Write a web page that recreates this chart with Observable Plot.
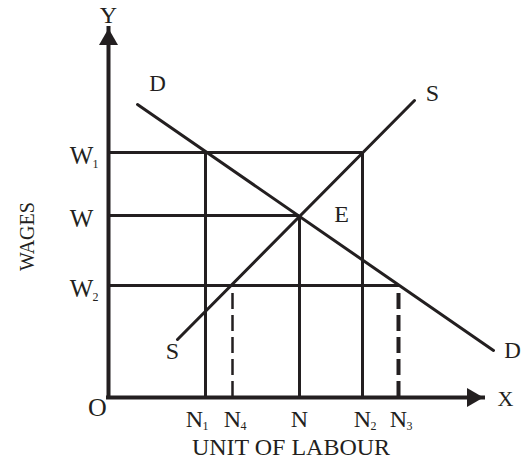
<!DOCTYPE html>
<html><head><meta charset="utf-8">
<script src="https://cdn.jsdelivr.net/npm/d3@7"></script>
<script src="https://cdn.jsdelivr.net/npm/@observablehq/plot@0.6"></script>
<style>body{margin:0;background:#fff}</style>
</head><body><div id="chart"></div>
<script>
// axis extents (arbitrary units)
const xMax = 375, yMax = 369;
// labour quantities on the X axis
const nNames = ["N", "N", "N", "N", "N"];
const nSubs = ["1", "4", "", "2", "3"];
const nValues = [97, 124, 191, 254, 290];
// wage levels on the Y axis
const wNames = ["W", "W", "W"];
const wSubs = ["1", "", "2"];
const wValues = [245, 182, 112];
// demand curve D and supply curve S (end points)
const demandX = [29, 385], demandY = [293, 47];
const supplyX = [69, 306], supplyY = [58, 297];
// texts
const axisTitleX = "UNIT OF LABOUR";
const axisTitleY = "WAGES";
const axisNameX = "X", axisNameY = "Y", originName = "O";
const demandName = "D", supplyName = "S", equilibriumName = "E";

const [N1, N4, N, N2, N3] = nValues;
const [W1, W, W2] = wValues;

const ink = "#231f20";
const font = "Liberation Serif";

const demand = demandX.map((x, i) => ({x, y: demandY[i]}));
const supply = supplyX.map((x, i) => ({x, y: supplyY[i]}));
const hGuides = [{y: W1, x: N2}, {y: W, x: N}, {y: W2, x: N3}];
const vSolid = [{x: N1, y: W1}, {x: N, y: W}, {x: N2, y: W1}];
const nTicks = nValues.map((v, i) => ({v, name: nNames[i], sub: nSubs[i]}));
const wTicks = wValues.map((v, i) => ({v, name: wNames[i], sub: wSubs[i]}));
const nShift = [-11, 0, 0, 0, 0]; // label nudges (px)

const txt = (extra) => ({fill: ink, fontFamily: font, ...extra});

const marks = [
  // guide lines
  Plot.ruleY(hGuides, {y: "y", x1: 0, x2: "x", stroke: ink, strokeWidth: 3}),
  Plot.ruleX(vSolid, {x: "x", y1: 0, y2: "y", stroke: ink, strokeWidth: 3}),
  Plot.ruleX([{x: N4, y: W2}], {x: "x", y1: 0, y2: "y", stroke: ink, strokeWidth: 2.5, strokeDasharray: "16,6"}),
  Plot.ruleX([{x: N3, y: W2}], {x: "x", y1: 0, y2: "y", stroke: ink, strokeWidth: 4, strokeDasharray: "16,6"}),
  // curves
  Plot.line(demand, {x: "x", y: "y", stroke: ink, strokeWidth: 3}),
  Plot.line(supply, {x: "x", y: "y", stroke: ink, strokeWidth: 3}),
  // axes
  Plot.ruleX([0], {y1: 0, y2: yMax, stroke: ink, strokeWidth: 4, strokeLinecap: "square"}),
  Plot.ruleY([0], {x1: 0, x2: xMax, stroke: ink, strokeWidth: 4, strokeLinecap: "square"}),
  Plot.dot([{x: 0, y: yMax}], {x: "x", y: "y", symbol: "triangle", r: 7.05, fill: ink, stroke: "none", dy: 11}),
  Plot.dot([{x: xMax, y: 0}], {x: "x", y: "y", symbol: "triangle", r: 7.05, fill: ink, stroke: "none", rotate: 90, dx: -11}),
  // wage tick labels
  Plot.text(wTicks, {x: 0, y: "v", text: "name", dx: -27, dy: 3, fontSize: 25, ...txt()}),
  Plot.text(wTicks, {x: 0, y: "v", text: "sub", dx: -13, dy: 12, fontSize: 12, ...txt()}),
  // labour tick labels
  ...nTicks.flatMap((d, i) => [
    Plot.text([d], {x: "v", y: 0, text: "name", dx: nShift[i], dy: 22, fontSize: 24, ...txt()}),
    Plot.text([d], {x: "v", y: 0, text: "sub", dx: nShift[i] + 11, dy: 29, fontSize: 12, ...txt()})
  ]),
  // axis names
  Plot.text([axisNameY], {x: 0, y: yMax, text: d => d, dy: -13, fontSize: 24, ...txt()}),
  Plot.text([axisNameX], {x: xMax, y: 0, text: d => d, dx: 22, dy: 1, fontSize: 22, ...txt()}),
  Plot.text([originName], {x: 0, y: 0, text: d => d, dx: -11, dy: 10, fontSize: 26, ...txt()}),
  Plot.text([axisTitleX], {frameAnchor: "bottom", text: d => d, dx: -5, dy: 57, fontSize: 24, ...txt()}),
  Plot.text([axisTitleY], {frameAnchor: "left", text: d => d, rotate: -90, dx: -81, dy: 58, fontSize: 20, ...txt()}),
  // curve labels
  Plot.text([demand[0]], {x: "x", y: "y", text: () => demandName, dx: 20, dy: -21, fontSize: 23, ...txt()}),
  Plot.text([demand[1]], {x: "x", y: "y", text: () => demandName, dx: 19, dy: 0, fontSize: 23, ...txt()}),
  Plot.text([supply[0]], {x: "x", y: "y", text: () => supplyName, dx: -5, dy: 12, fontSize: 24, ...txt()}),
  Plot.text([supply[1]], {x: "x", y: "y", text: () => supplyName, dx: 18, dy: -7, fontSize: 24, ...txt()}),
  Plot.text([{x: N, y: W}], {x: "x", y: "y", text: () => equilibriumName, dx: 42, dy: -1, fontSize: 24, ...txt()})
];

const chart = Plot.plot({
  width: 532,
  height: 463,
  marginLeft: 108,
  marginRight: 49,
  marginTop: 28,
  marginBottom: 66,
  x: {domain: [0, xMax], axis: null},
  y: {domain: [0, yMax], axis: null},
  style: {background: "#fff", fontFamily: font},
  marks
});
document.getElementById("chart").appendChild(chart);
</script>
</body></html>
